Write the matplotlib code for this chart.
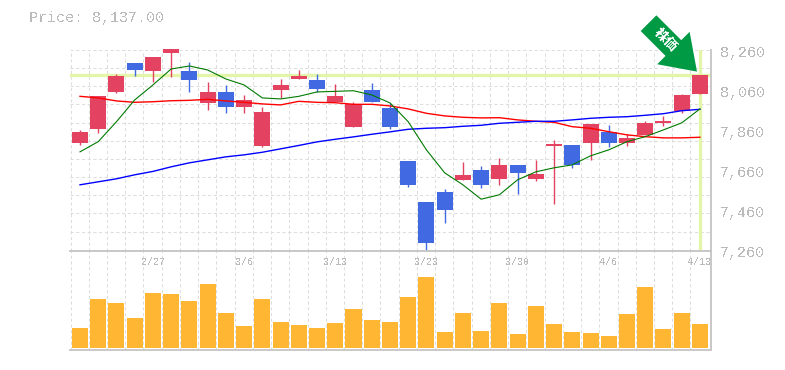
import matplotlib
matplotlib.use('Agg')
import matplotlib.pyplot as plt
import numpy as np

plt.rcParams['font.family'] = ['Liberation Mono', 'Noto Sans CJK JP', 'DejaVu Sans']
plt.rcParams['text.antialiased'] = False

# candle data
opens = [7795, 7865, 8050, 8195, 8155, 8245, 8155, 7995, 8050, 7975, 7780, 8060, 8115, 8110, 8000, 7875, 8060, 7970,
         7705, 7500, 7550, 7610, 7660, 7615, 7685, 7615, 7780, 7785, 7795, 7850, 7795, 7835, 7895, 7955, 8040]
closes = [7850, 8030, 8130, 8160, 8225, 8263, 8110, 8050, 7975, 8010, 7950, 8085, 8130, 8065, 8030, 7990, 8000, 7875,
          7585, 7295, 7460, 7635, 7585, 7685, 7645, 7640, 7790, 7685, 7890, 7795, 7820, 7895, 7905, 8035, 8137]
highs = [7860, 8030, 8140, 8195, 8225, 8263, 8198, 8100, 8085, 8035, 7975, 8115, 8160, 8140, 8090, 8000, 8095, 7995,
         7705, 7500, 7565, 7700, 7680, 7720, 7685, 7710, 7810, 7785, 7890, 7885, 7840, 7905, 7930, 8040, 8137]
lows = [7785, 7845, 8045, 8130, 8100, 8127, 8050, 7960, 7945, 7945, 7775, 8020, 8115, 8050, 8000, 7875, 8000, 7865,
        7575, 7260, 7395, 7610, 7570, 7585, 7540, 7605, 7490, 7670, 7710, 7775, 7780, 7835, 7880, 7945, 8040]
ma_green = [7750, 7801, 7901, 8010, 8085, 8165, 8180, 8160, 8115, 8085, 8020, 8015, 8028, 8050, 8053, 8056, 8035, 7995,
            7901, 7760, 7645, 7585, 7513, 7535, 7610, 7650, 7670, 7685, 7730, 7760, 7801, 7826, 7860, 7895, 7965]
ma_red = [8028, 8020, 8005, 7998, 8001, 8006, 8008, 8013, 8005, 7998, 7990, 7985, 8003, 7998, 7996, 7988, 7988, 7980,
          7965, 7943, 7930, 7923, 7920, 7921, 7910, 7903, 7898, 7876, 7868, 7851, 7835, 7826, 7820, 7820, 7823]
ma_blue = [7585, 7600, 7615, 7635, 7652, 7675, 7695, 7710, 7725, 7735, 7748, 7765, 7782, 7800, 7813, 7825, 7838, 7850,
           7863, 7868, 7871, 7878, 7883, 7893, 7898, 7903, 7903, 7910, 7918, 7923, 7926, 7933, 7941, 7956, 7963]
volumes = [60, 147, 135, 90, 165, 162, 141, 192, 105, 66, 147, 78, 69, 60, 75, 117, 84, 78,
           153, 213, 48, 105, 51, 135, 42, 126, 72, 48, 45, 36, 102, 183, 57, 105, 72]
date_pos = [4, 9, 14, 19, 24, 29, 34]
date_labels = ['2/27', '3/6', '3/13', '3/23', '3/30', '4/6', '4/13']
price_ticks = [8260, 8060, 7860, 7660, 7460, 7260]
price_labels = ['8,260', '8,060', '7,860', '7,660', '7,460', '7,260']
last_price = 8137

RED = '#e34360'
BLUE = '#4169e1'
ORANGE = '#ffb733'
YELLOW = '#e3f5a9'
GRID = '#dddddd'
AXIS = '#c4c4c4'
TEXT = '#bbbbbb'
DASH = (0, (3, 2.5))

W, H = 785, 370
fig = plt.figure(figsize=(W / 100, H / 100), dpi=100)
left, right = 70 / W, 710.5 / W
ax = fig.add_axes([left, 1 - 250.7 / H, right - left, 200.7 / H])
ax2 = fig.add_axes([left, 1 - 350.3 / H, right - left, 99.6 / H])

x = np.arange(len(opens))
for a in (ax, ax2):
    a.set_xlim(-0.548, 34.58)
    a.set_xticks(x - 0.52, minor=False)
    a.set_xticklabels([])
    a.tick_params(length=0)
    a.grid(axis='x', color=GRID, linestyle=DASH, linewidth=0.75)
    a.set_axisbelow(True)
    for s in a.spines.values():
        s.set_color(AXIS)
    a.spines['right'].set_linewidth(1.3)
    a.spines['left'].set_visible(False)

# price panel
ax.set_ylim(7255, 8258)
ax.set_yticks(np.linspace(7260, 8260, 12))
ax.set_yticklabels([])
ax.grid(axis='y', color=GRID, linestyle=DASH, linewidth=0.75)
ax.spines['top'].set_visible(False)
ax.spines['bottom'].set_visible(False)

ax.axhline(last_price, color=YELLOW, linewidth=2.4, zorder=1)
ax.axvline(x[-1], color=YELLOW, linewidth=2.4, zorder=1)

colors = [RED if c >= o else BLUE for o, c in zip(opens, closes)]
ax.vlines(x, lows, highs, colors=colors, linewidth=1, zorder=2, clip_on=False)
bottoms = [min(o, c) for o, c in zip(opens, closes)]
heights = [abs(o - c) for o, c in zip(opens, closes)]
ax.bar(x, heights, bottom=bottoms, width=0.88, color=colors, zorder=3, clip_on=False)

ax.plot(x, ma_red, color='#ff0000', linewidth=1.0, zorder=4)
ax.plot(x, ma_blue, color='#0000ff', linewidth=1.0, zorder=4)
ax.plot(x, ma_green, color='#007a00', linewidth=0.8, zorder=4)

for p, lab in zip(price_ticks, price_labels):
    ax.annotate(lab, xy=(1, p), xycoords=ax.get_yaxis_transform(), xytext=(7, -2.2),
                textcoords='offset points', ha='left', va='center', color=TEXT, fontsize=10.8, annotation_clip=False)

# arrow pointing at the last candle
ax.annotate('', xy=(x[-1], last_price), xytext=(-37, 37), textcoords='offset points',
            arrowprops=dict(arrowstyle='simple,head_length=24,head_width=33,tail_width=16', mutation_scale=1,
                            color='#009944', linewidth=0, shrinkA=0, shrinkB=3), annotation_clip=False)
fig.text(665.5 / W, 1 - 40.5 / H, '株価', color='white', fontsize=9.5, fontweight='bold',
         rotation=-45, ha='center', va='center')

# volume panel
ax2.set_ylim(-7, 292)
ax2.set_yticks([])
ax2.spines['bottom'].set_linewidth(1.3)
ax2.spines['top'].set_linewidth(1.3)
ax2.bar(x, volumes, width=0.88, color=ORANGE, zorder=3)
for i, lab in zip(date_pos, date_labels):
    ax2.text(i, 1 - 11.5 / 99.6, lab, transform=ax2.get_xaxis_transform(), ha='center', va='center',
             color=TEXT, fontsize=7.2, zorder=5, clip_on=False)

fig.text(29 / W, 1 - 18 / H, 'Price: 8,137.00', color=TEXT, fontsize=10.8, ha='left', va='center')

fig.savefig('out.png', dpi=100)
